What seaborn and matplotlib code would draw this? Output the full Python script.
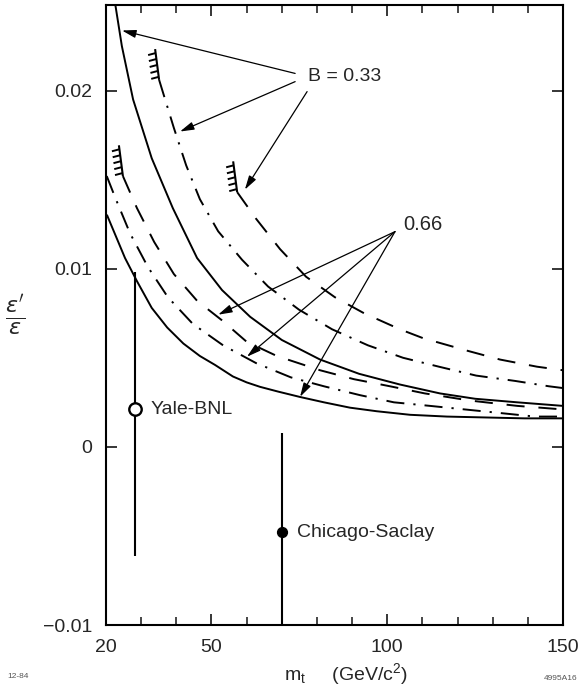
import matplotlib
matplotlib.use("Agg")
import matplotlib.pyplot as plt
import numpy as np
import pandas as pd
import seaborn as sns

# ---------------- data ----------------
# B = 0.33 curves
mt_b033_solid = [22.5, 24.5, 27.7, 33.0, 39.0, 45.9, 53.0, 61.0, 70.0, 80.9, 92.0, 103.6, 115.0, 125.0, 137.0, 150.0]
ep_b033_solid = [0.0250, 0.0225, 0.0195, 0.0162, 0.0134, 0.0106, 0.0088, 0.0073, 0.0060, 0.0049, 0.0041, 0.0035, 0.0030, 0.0027, 0.0025, 0.0023]

mt_b033_dashdot = [35.1, 39.3, 42.8, 46.7, 51.9, 58.7, 66.1, 74.9, 84.3, 94.5, 104.5, 114.7, 125.3, 136.4, 146.0, 150.0]
ep_b033_dashdot = [0.0206, 0.0179, 0.0158, 0.0139, 0.0121, 0.0105, 0.0090, 0.0077, 0.0066, 0.0057, 0.0050, 0.0045, 0.0040, 0.0037, 0.0034, 0.0033]

mt_b033_dashed = [57.3, 62.7, 69.5, 76.9, 85.1, 93.4, 103.6, 110.2, 122.7, 132.1, 142.6, 150.0]
ep_b033_dashed = [0.0143, 0.0128, 0.0111, 0.00955, 0.0084, 0.0075, 0.0066, 0.0061, 0.0054, 0.0049, 0.0045, 0.0043]

# B = 0.66 curves
mt_b066_solid = [20.3, 25.4, 28.8, 33.0, 37.4, 42.0, 46.7, 51.0, 56.1, 60.0, 63.8, 69.0, 75.2, 82.0, 89.4, 97.0, 106.5, 117.0, 128.0, 139.0, 150.0]
ep_b066_solid = [0.0130, 0.0106, 0.0093, 0.0078, 0.0067, 0.0058, 0.0051, 0.0046, 0.00395, 0.00362, 0.00337, 0.0031, 0.0028, 0.0025, 0.0022, 0.0020, 0.0018, 0.0017, 0.00165, 0.0016, 0.0016]

mt_b066_dashdot = [20.2, 22.8, 26.8, 31.9, 37.6, 44.7, 53.3, 62.7, 72.6, 82.0, 92.3, 101.9, 112.2, 122.1, 132.1, 142.0, 150.0]
ep_b066_dashdot = [0.0152, 0.0139, 0.0120, 0.0101, 0.0084, 0.0069, 0.0057, 0.0047, 0.0039, 0.0034, 0.0029, 0.0025, 0.0023, 0.0021, 0.0019, 0.0017, 0.0017]

mt_b066_dashed = [24.8, 28.8, 33.7, 39.3, 45.9, 53.0, 60.0, 68.6, 80.9, 90.5, 100.8, 110.7, 123.5, 137.0, 150.0]
ep_b066_dashed = [0.0152, 0.0134, 0.0115, 0.0097, 0.0082, 0.0071, 0.0059, 0.0051, 0.0043, 0.0038, 0.0034, 0.0030, 0.0026, 0.0023, 0.0021]

# experiments
exp_names = ["Yale-BNL", "Chicago-Saclay"]
exp_mt = [28.3, 70.0]
exp_val = [0.0021, -0.0048]
exp_hi = [0.0098, 0.0008]
exp_lo = [-0.0061, -0.0105]

x_major_ticks = [20, 50, 100, 150]
x_minor_ticks = [30, 40, 60, 70, 80, 90, 110, 120, 130, 140]
y_ticks = [-0.01, 0.0, 0.01, 0.02]
y_tick_labels = ["\u22120.01", "0", "0.01", "0.02"]

# ---------------- build table ----------------
curves = {
    "B033_solid": (mt_b033_solid, ep_b033_solid),
    "B033_dashdot": (mt_b033_dashdot, ep_b033_dashdot),
    "B033_dashed": (mt_b033_dashed, ep_b033_dashed),
    "B066_solid": (mt_b066_solid, ep_b066_solid),
    "B066_dashdot": (mt_b066_dashdot, ep_b066_dashdot),
    "B066_dashed": (mt_b066_dashed, ep_b066_dashed),
}
rows = []
for name, (xs, ys) in curves.items():
    for xv, yv in zip(xs, ys):
        rows.append({"curve": name, "mt": xv, "eps": yv})
df = pd.DataFrame(rows)

dash_styles = {
    "B033_solid": "",
    "B066_solid": "",
    "B033_dashdot": (13, 6.5, 1.6, 6.5),
    "B066_dashdot": (13, 6.5, 1.6, 6.5),
    "B033_dashed": (13, 10),
    "B066_dashed": (13, 10),
}

# ---------------- style ----------------
sns.set_theme(style="ticks")
plt.rcParams["font.family"] = ["Liberation Sans", "DejaVu Sans"]
plt.rcParams["lines.scale_dashes"] = False
plt.rcParams["axes.linewidth"] = 1.5
plt.rcParams["lines.solid_joinstyle"] = "round"

fig = plt.figure(figsize=(5.8, 6.87), dpi=100)
ax = fig.add_axes([0.1828, 0.0902, 0.7879, 0.9025])
ax.set_xlim(20, 150)
ax.set_ylim(-0.01, 0.0248)

sns.lineplot(data=df, x="mt", y="eps", style="curve", dashes=dash_styles,
             color="black", linewidth=1.4, estimator=None, sort=False,
             legend=False, ax=ax)

# hatches at the starting (limit) points of three curves
def hatch(xs, ys):
    p0 = ax.transData.transform((xs[0], ys[0]))
    u = np.array([-0.13, 1.0])
    u = u / np.hypot(*u)
    L = 31.0
    top = p0 + L * u
    inv = ax.transData.inverted()
    seg = inv.transform(np.vstack([p0, top]))
    ax.plot(seg[:, 0], seg[:, 1], color="black", lw=1.5, clip_on=False,
            solid_capstyle="butt")
    for t in [3, 9, 15, 21, 27]:
        q = p0 + t * u
        q2 = q + np.array([-7.5, -2.0])
        s = inv.transform(np.vstack([q, q2]))
        ax.plot(s[:, 0], s[:, 1], color="black", lw=1.4, clip_on=False,
                solid_capstyle="butt")

hatch(mt_b033_dashdot, ep_b033_dashdot)
hatch(mt_b033_dashed, ep_b033_dashed)
hatch(mt_b066_dashed, ep_b066_dashed)

# experimental points
for i, name in enumerate(exp_names):
    ax.vlines(exp_mt[i], exp_lo[i], exp_hi[i], color="black", lw=1.5)
sns.scatterplot(x=[exp_mt[0]], y=[exp_val[0]], ax=ax, s=80, color="white",
                edgecolor="black", linewidth=1.7, zorder=5, legend=False)
sns.scatterplot(x=[exp_mt[1]], y=[exp_val[1]], ax=ax, s=50, color="black",
                edgecolor="black", linewidth=1.0, zorder=5, legend=False)
ax.text(exp_mt[0] + 4.5, exp_val[0], exp_names[0], fontsize=14, va="center", ha="left")
ax.text(exp_mt[1] + 4.3, exp_val[1], exp_names[1], fontsize=14, va="center", ha="left")

# annotations
arrow_kw = dict(arrowstyle="-|>,head_length=0.7,head_width=0.2", color="black",
                lw=0.9, shrinkA=0, shrinkB=0)
ax.text(77.5, 0.0208, "B = 0.33", fontsize=14, ha="left", va="center")
ax.annotate("", xy=(24.55, 0.02337), xytext=(73.8, 0.02096), arrowprops=arrow_kw)
ax.annotate("", xy=(41.05, 0.0177), xytext=(73.8, 0.0205), arrowprops=arrow_kw)
ax.annotate("", xy=(59.5, 0.01444), xytext=(77.2, 0.01994), arrowprops=arrow_kw)

ax.text(104.5, 0.01247, "0.66", fontsize=14.5, ha="left", va="center")
ax.annotate("", xy=(51.9, 0.00742), xytext=(102.2, 0.01208), arrowprops=arrow_kw)
ax.annotate("", xy=(60.1, 0.00506), xytext=(102.2, 0.01208), arrowprops=arrow_kw)
ax.annotate("", xy=(75.2, 0.00281), xytext=(102.2, 0.01208), arrowprops=arrow_kw)

# axes/ticks
ax.set_xticks(x_major_ticks)
ax.set_xticks(x_minor_ticks, minor=True)
ax.set_xticklabels([str(v) for v in x_major_ticks])
ax.set_yticks(y_ticks)
ax.set_yticklabels(y_tick_labels)
ax.tick_params(axis="both", which="major", direction="in", length=8, width=1.3,
               labelsize=14, top=True, right=True, pad=10)
ax.tick_params(axis="x", which="minor", direction="in", length=6, width=1.2,
               top=True)
for sp in ax.spines.values():
    sp.set_visible(True)
    sp.set_linewidth(1.5)
    sp.set_color("black")

ax.set_xlabel(r"$\mathregular{m_t}$     (GeV/c$^\mathregular{2}$)", fontsize=14, labelpad=6)
ax.xaxis.set_label_coords(0.525, -0.058)
ax.set_ylabel(r"$\frac{\epsilon'}{\epsilon}$", fontsize=23, rotation=0,
              va="center")
ax.yaxis.set_label_coords(-0.2, 0.5)

fig.text(0.012, 0.013, "12-84", fontsize=6, color="#555555")
fig.text(0.995, 0.01, "4995A16", fontsize=6, color="#555555", ha="right")

fig.savefig("out.png", dpi=100, facecolor="white")
